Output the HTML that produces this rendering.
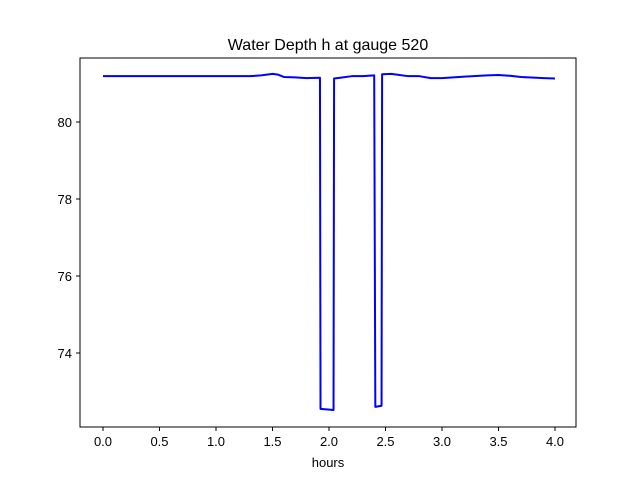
<!DOCTYPE html>
<html><head><meta charset="utf-8"><style>
body{margin:0;background:#fff}
svg text{font-family:"Liberation Sans","DejaVu Sans",sans-serif;font-size:13px;fill:#000}
</style></head><body>
<svg width="640" height="480" viewBox="0 0 640 480">
<rect width="640" height="480" fill="#fff"/>
<text x="328" y="50" text-anchor="middle" style="font-size:16px">Water Depth h at gauge 520</text>
<g id="axes"></g>
<path id="line" fill="none" stroke="#0000ff" stroke-width="2" stroke-linejoin="round"/>
<rect x="80" y="58" width="496" height="369" fill="none" stroke="#000" stroke-width="1"/>
<text x="328" y="467" text-anchor="middle">hours</text>
</svg>
<script>
const hours=[0,1.3,1.4,1.5,1.55,1.6,1.7,1.8,1.92,1.925,2.04,2.045,2.1,2.2,2.3,2.4,2.41,2.465,2.47,2.55,2.6,2.7,2.8,2.9,3.0,3.2,3.4,3.5,3.6,3.7,3.9,4.0];
const depth=[81.19,81.19,81.21,81.25,81.23,81.17,81.16,81.14,81.15,72.55,72.52,81.13,81.15,81.19,81.19,81.21,72.6,72.63,81.24,81.25,81.23,81.19,81.19,81.14,81.14,81.18,81.21,81.22,81.2,81.17,81.14,81.13];
const xTicks=[0,0.5,1,1.5,2,2.5,3,3.5,4];
const yTicks=[74,76,78,80];
const sx=v=>103+v*113;
const sy=v=>122+(80-v)*38.5;
const ns="http://www.w3.org/2000/svg";
const g=document.getElementById('axes');
xTicks.forEach(t=>{
  const l=document.createElementNS(ns,'line');
  
  
  l.setAttribute('x1',sx(t));l.setAttribute('x2',sx(t));l.setAttribute('y1',427);l.setAttribute('y2',431);l.setAttribute('stroke','#000');
  g.appendChild(l);
  const tx=document.createElementNS(ns,'text');
  
  
  tx.setAttribute('x',sx(t));tx.setAttribute('y',446);tx.setAttribute('text-anchor','middle');
  tx.textContent=t.toFixed(1);g.appendChild(tx);
});
yTicks.forEach(t=>{
  const l=document.createElementNS(ns,'line');
  
  
  l.setAttribute('x1',76);l.setAttribute('x2',80);l.setAttribute('y1',sy(t));l.setAttribute('y2',sy(t));l.setAttribute('stroke','#000');
  g.appendChild(l);
  const tx=document.createElementNS(ns,'text');
  
  
  tx.setAttribute('x',72);tx.setAttribute('y',sy(t)+5);tx.setAttribute('text-anchor','end');
  tx.textContent=String(t);g.appendChild(tx);
});
document.getElementById('line').setAttribute('d',hours.map((h,i)=>(i?'L':'M')+sx(h)+','+sy(depth[i])).join(''));
</script>
</body></html>
